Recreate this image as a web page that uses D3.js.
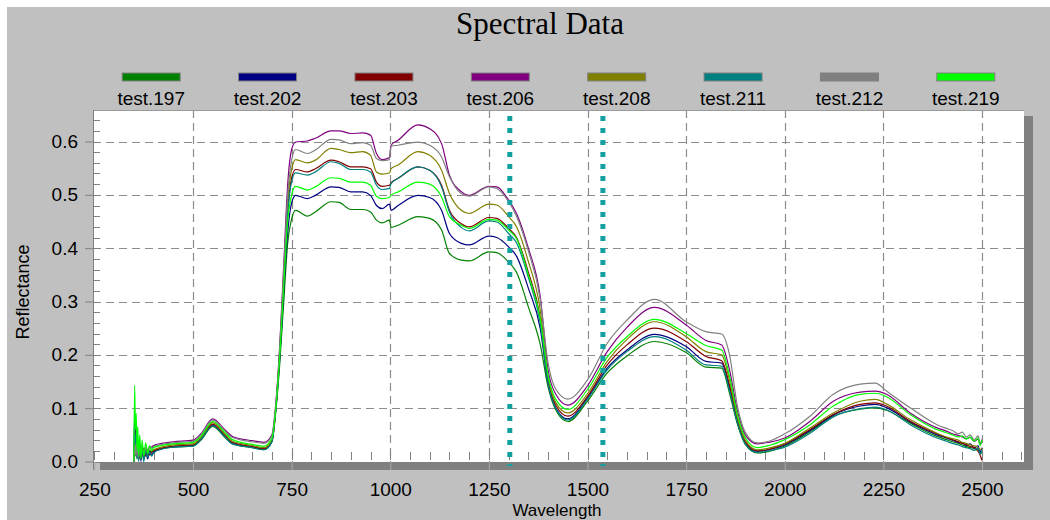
<!DOCTYPE html>
<html>
<head>
<meta charset="utf-8">
<script src="https://cdn.jsdelivr.net/npm/d3@7"></script>
<style>
  html, body { margin: 0; padding: 0; background: #ffffff; }
  svg { display: block; }
</style>
</head>
<body>
<script>
// ---------------- DATA ----------------
const title = "Spectral Data";
const xLabel = "Wavelength";
const yLabel = "Reflectance";
const seriesNames = ["test.197", "test.202", "test.203", "test.206", "test.208", "test.211", "test.212", "test.219"];
const seriesColors = ["#008000", "#000080", "#800000", "#800080", "#808000", "#008080", "#808080", "#00ff00"];
const xTicks = [250, 500, 750, 1000, 1250, 1500, 1750, 2000, 2250, 2500];
const yTicks = [0.0, 0.1, 0.2, 0.3, 0.4, 0.5, 0.6];
const markerLines = [1303, 1539];

const wavelengths = [
  350, 352, 354, 356, 358, 360, 362, 365, 368, 371, 375, 380, 385, 390, 395,
  400, 420, 450, 500, 520, 550, 580, 600, 650, 680, 700,
  710, 720, 730, 740, 750,
  760, 790, 810, 850, 870, 900, 930, 950, 965, 980, 998, 1002, 1020,
  1070, 1100, 1130, 1150, 1180, 1200, 1250, 1270, 1300,
  1320, 1350, 1380, 1400, 1420, 1450,
  1500, 1550, 1600, 1670, 1750, 1800, 1840,
  1860, 1880, 1900, 1930, 1960, 2000,
  2064, 2123, 2191, 2230, 2258, 2318, 2386,
  2410, 2425, 2440, 2450, 2460, 2470, 2480, 2490, 2495, 2500
];

const test197 = [
  0, 0.05, 0.01, 0.04, 0.005, 0.03, 0.01, 0.025, 0.005, 0.02, 0.01, 0.022, 0.012, 0.02, 0.017,
  0.019, 0.024, 0.027, 0.029, 0.040, 0.066, 0.046, 0.033, 0.026, 0.022, 0.037,
  0.095, 0.185, 0.30, 0.41, 0.455,
  0.471, 0.46, 0.468, 0.487, 0.486, 0.4725, 0.4725, 0.468, 0.4525, 0.4475, 0.4525, 0.439, 0.443,
  0.459, 0.456, 0.434, 0.39, 0.3775, 0.376, 0.393, 0.3915, 0.374,
  0.355, 0.29, 0.22, 0.14, 0.096, 0.075,
  0.113, 0.166, 0.198, 0.225, 0.2043, 0.177, 0.175,
  0.128, 0.07, 0.032, 0.016, 0.019, 0.029,
  0.056, 0.085, 0.098, 0.1006, 0.096, 0.072, 0.047,
  0.041, 0.037, 0.034, 0.031, 0.028, 0.026, 0.024, 0.02, 0.018, 0.015
];
const test202 = [
  0, 0.095, 0.02, 0.06, 0.01, 0.04, 0.005, 0.035, 0.0, 0.03, 0.005, 0.02, 0.005, 0.02, 0.012,
  0.018, 0.024, 0.028, 0.030, 0.042, 0.068, 0.048, 0.034, 0.027, 0.023, 0.038,
  0.10, 0.195, 0.32, 0.43, 0.485,
  0.499, 0.493, 0.499, 0.515, 0.514, 0.5056, 0.5056, 0.499, 0.48, 0.474, 0.4825, 0.471, 0.48,
  0.499, 0.495, 0.471, 0.4275, 0.409, 0.406, 0.4225, 0.42, 0.4025,
  0.385, 0.325, 0.25, 0.147, 0.10, 0.080,
  0.119, 0.175, 0.209, 0.2385, 0.2155, 0.1876, 0.1845,
  0.138, 0.075, 0.035, 0.019, 0.022, 0.031,
  0.058, 0.087, 0.104, 0.107, 0.101, 0.074, 0.05,
  0.044, 0.04, 0.036, 0.035, 0.03, 0.033, 0.025, 0.03, 0.018, 0.026
];
const test203 = [
  0, 0.03, 0.07, 0.02, 0.045, 0.01, 0.035, 0.005, 0.03, 0.01, 0.025, 0.01, 0.02, 0.012, 0.018,
  0.02, 0.025, 0.029, 0.031, 0.043, 0.070, 0.050, 0.036, 0.028, 0.024, 0.039,
  0.10, 0.205, 0.34, 0.47, 0.532,
  0.5475, 0.543, 0.549, 0.565, 0.562, 0.5525, 0.5525, 0.549, 0.524, 0.516, 0.518, 0.5225, 0.531,
  0.5525, 0.546, 0.518, 0.471, 0.446, 0.44, 0.4575, 0.456, 0.437,
  0.42, 0.355, 0.27, 0.152, 0.105, 0.085,
  0.122, 0.181, 0.2186, 0.25, 0.225, 0.197, 0.189,
  0.143, 0.078, 0.037, 0.02, 0.023, 0.033,
  0.060, 0.088, 0.107, 0.110, 0.104, 0.0754, 0.052,
  0.045, 0.041, 0.037, 0.034, 0.032, 0.028, 0.027, 0.02, 0.012, 0.002
];
const test206 = [
  0, 0.035, 0.02, 0.04, 0.015, 0.035, 0.01, 0.03, 0.015, 0.028, 0.018, 0.026, 0.022, 0.028, 0.027,
  0.03, 0.034, 0.037, 0.040, 0.052, 0.080, 0.060, 0.047, 0.039, 0.036, 0.05,
  0.11, 0.22, 0.37, 0.52, 0.585,
  0.599, 0.601, 0.606, 0.62, 0.62, 0.615, 0.616, 0.612, 0.5775, 0.566, 0.57, 0.593, 0.6025,
  0.631, 0.624, 0.596, 0.537, 0.506, 0.499, 0.516, 0.515, 0.49,
  0.465, 0.40, 0.31, 0.172, 0.1255, 0.1056,
  0.142, 0.206, 0.2516, 0.289, 0.256, 0.227, 0.2186,
  0.172, 0.095, 0.05, 0.033, 0.036, 0.044,
  0.0754, 0.113, 0.130, 0.132, 0.126, 0.091, 0.063,
  0.057, 0.052, 0.049, 0.046, 0.043, 0.045, 0.038, 0.042, 0.033, 0.036
];
const test208 = [
  0, 0.04, 0.015, 0.035, 0.01, 0.03, 0.005, 0.028, 0.01, 0.025, 0.012, 0.022, 0.015, 0.022, 0.02,
  0.022, 0.027, 0.031, 0.033, 0.045, 0.073, 0.052, 0.038, 0.030, 0.026, 0.041,
  0.105, 0.21, 0.35, 0.485, 0.548,
  0.566, 0.56, 0.565, 0.587, 0.585, 0.579, 0.581, 0.574, 0.543, 0.539, 0.541, 0.549, 0.556,
  0.581, 0.574, 0.546, 0.5025, 0.471, 0.465, 0.4825, 0.481, 0.459,
  0.44, 0.375, 0.285, 0.158, 0.11, 0.091,
  0.127, 0.1876, 0.229, 0.262, 0.234, 0.206, 0.2,
  0.152, 0.082, 0.04, 0.022, 0.025, 0.034,
  0.063, 0.091, 0.113, 0.1165, 0.108, 0.0786, 0.053,
  0.046, 0.043, 0.04, 0.036, 0.034, 0.031, 0.03, 0.026, 0.022, 0.025
];
const test211 = [
  0, 0.08, 0.03, 0.05, 0.005, 0.035, 0.0, 0.03, 0.005, 0.025, 0.0, 0.02, 0.008, 0.018, 0.01,
  0.016, 0.023, 0.027, 0.029, 0.041, 0.067, 0.047, 0.033, 0.026, 0.022, 0.037,
  0.10, 0.205, 0.34, 0.465, 0.525,
  0.541, 0.537, 0.543, 0.562, 0.559, 0.5475, 0.5475, 0.543, 0.518, 0.51, 0.512, 0.521, 0.531,
  0.5525, 0.546, 0.515, 0.468, 0.439, 0.4325, 0.451, 0.449, 0.4275,
  0.41, 0.345, 0.26, 0.147, 0.099, 0.078,
  0.117, 0.172, 0.206, 0.234, 0.209, 0.181, 0.179,
  0.133, 0.072, 0.033, 0.017, 0.02, 0.027,
  0.053, 0.0837, 0.099, 0.102, 0.097, 0.069, 0.044,
  0.038, 0.034, 0.031, 0.028, 0.026, 0.024, 0.021, 0.025, 0.014, 0.02
];
const test212 = [
  0, 0.03, 0.012, 0.035, 0.01, 0.03, 0.008, 0.028, 0.012, 0.026, 0.015, 0.025, 0.02, 0.026, 0.025,
  0.028, 0.032, 0.035, 0.038, 0.05, 0.078, 0.058, 0.045, 0.037, 0.034, 0.048,
  0.105, 0.215, 0.36, 0.50, 0.565,
  0.585, 0.5775, 0.584, 0.604, 0.603, 0.596, 0.598, 0.593, 0.568, 0.564, 0.566, 0.591, 0.593,
  0.599, 0.593, 0.571, 0.534, 0.5025, 0.4975, 0.515, 0.512, 0.487,
  0.46, 0.395, 0.305, 0.185, 0.135, 0.117,
  0.153, 0.2217, 0.265, 0.304, 0.262, 0.2435, 0.239,
  0.2, 0.104, 0.055, 0.035, 0.038, 0.052,
  0.085, 0.126, 0.145, 0.147, 0.132, 0.1007, 0.069,
  0.062, 0.058, 0.052, 0.055, 0.046, 0.05, 0.041, 0.048, 0.035, 0.042
];
const test219 = [
  0, 0.143, 0.06, 0.09, 0.02, 0.065, 0.01, 0.05, 0.005, 0.04, 0.01, 0.035, 0.015, 0.03, 0.02,
  0.026, 0.03, 0.033, 0.036, 0.047, 0.075, 0.055, 0.041, 0.032, 0.029, 0.043,
  0.10, 0.20, 0.33, 0.45, 0.50,
  0.516, 0.509, 0.515, 0.532, 0.531, 0.524, 0.524, 0.518, 0.4975, 0.493, 0.495, 0.4995, 0.5056,
  0.524, 0.52, 0.496, 0.459, 0.443, 0.437, 0.454, 0.4525, 0.434,
  0.418, 0.35, 0.268, 0.162, 0.116, 0.0975,
  0.135, 0.1957, 0.234, 0.2665, 0.240, 0.2174, 0.209,
  0.16, 0.088, 0.045, 0.026, 0.03, 0.041,
  0.069, 0.104, 0.126, 0.128, 0.1215, 0.088, 0.0597,
  0.054, 0.05, 0.046, 0.048, 0.042, 0.046, 0.038, 0.044, 0.03, 0.04
];
const seriesValues = [test197, test202, test203, test206, test208, test211, test212, test219];

// ---------------- LAYOUT ----------------
const W = 1050, H = 520;
const plot = { left: 93, top: 110, right: 1024, bottom: 462 };
const SANS = "'Liberation Sans', Arial, sans-serif";
const SERIF = "'Liberation Serif', 'Times New Roman', serif";

const svg = d3.select("body").append("svg").attr("width", W).attr("height", H)
  .style("font-family", SANS);

// panel background
svg.append("rect").attr("x", 0).attr("y", 0).attr("width", W).attr("height", H).attr("fill", "#ffffff");
svg.append("rect").attr("x", 7).attr("y", 7).attr("width", W - 7).attr("height", H - 7).attr("fill", "#c0c0c0");

// shadow
svg.append("rect").attr("x", plot.right).attr("y", plot.top + 6)
  .attr("width", 9).attr("height", plot.bottom - plot.top + 2).attr("fill", "#808080");
svg.append("rect").attr("x", plot.left + 7).attr("y", plot.bottom)
  .attr("width", plot.right - plot.left + 2).attr("height", 8).attr("fill", "#808080");

// plot area
svg.append("rect").attr("x", plot.left).attr("y", plot.top)
  .attr("width", plot.right - plot.left).attr("height", plot.bottom - plot.top)
  .attr("fill", "#ffffff");

const x = d3.scaleLinear().domain([250, 2500]).range([94.4, 982]);
const y = d3.scaleLinear().domain([0, 0.6]).range([461.5, 141.5]);

// gridlines
const grid = svg.append("g").attr("stroke", "#8c8c8c").attr("stroke-width", 1.2).attr("stroke-dasharray", "8,5");
grid.selectAll("line.v").data(xTicks.filter(d => d > 250)).join("line")
  .attr("class", "v")
  .attr("x1", d => Math.round(x(d)) + 0.5).attr("x2", d => Math.round(x(d)) + 0.5)
  .attr("y1", plot.top).attr("y2", plot.bottom);
grid.selectAll("line.h").data(yTicks.filter(d => d > 0)).join("line")
  .attr("class", "h")
  .attr("y1", d => Math.round(y(d)) + 0.5).attr("y2", d => Math.round(y(d)) + 0.5)
  .attr("x1", plot.left).attr("x2", plot.right);

// x minor ticks (inside, bottom)
const xMinor = d3.range(250, 2650, 50);
svg.append("g").attr("stroke", "#808080").attr("stroke-width", 1)
  .selectAll("line").data(xMinor).join("line")
  .attr("x1", d => Math.round(x(d)) + 0.5).attr("x2", d => Math.round(x(d)) + 0.5)
  .attr("y1", 452).attr("y2", 460);

// y minor ticks (inside, left)
const yMinor = d3.range(0, 0.66, 0.02);
svg.append("g").attr("stroke", "#808080").attr("stroke-width", 1)
  .selectAll("line").data(yMinor).join("line")
  .attr("y1", d => Math.round(y(d)) + 0.5).attr("y2", d => Math.round(y(d)) + 0.5)
  .attr("x1", plot.left).attr("x2", plot.left + 7);

// series lines
svg.append("clipPath").attr("id", "clip").append("rect")
  .attr("x", plot.left).attr("y", plot.top)
  .attr("width", plot.right - plot.left).attr("height", plot.bottom - plot.top);

const line = d3.line()
  .defined(d => d != null && !isNaN(d))
  .x((d, i) => x(wavelengths[i]))
  .y(d => y(d))
  .curve(d3.curveMonotoneX);

svg.append("g").attr("clip-path", "url(#clip)")
  .selectAll("path").data(seriesValues).join("path")
  .attr("d", d => line(d))
  .attr("fill", "none")
  .attr("stroke", (d, i) => seriesColors[i])
  .attr("stroke-width", 1.2)
  .attr("stroke-linejoin", "round");

// marker dotted lines
svg.append("g").selectAll("line").data(markerLines).join("line")
  .attr("x1", d => x(d)).attr("x2", d => x(d))
  .attr("y1", 116).attr("y2", 466)
  .attr("stroke", "#12a0a0").attr("stroke-width", 5)
  .attr("stroke-dasharray", "5,7");

// plot frame (top & left)
svg.append("line").attr("x1", plot.left).attr("x2", plot.right).attr("y1", plot.top + 0.5).attr("y2", plot.top + 0.5)
  .attr("stroke", "#9a9a9a");
svg.append("line").attr("x1", plot.left + 0.5).attr("x2", plot.left + 0.5).attr("y1", plot.top).attr("y2", plot.bottom + 8)
  .attr("stroke", "#808080");

// y axis
const yAxis = d3.axisLeft(y).tickValues(yTicks).tickSize(8).tickPadding(7).tickFormat(d3.format(".1f"));
const gy = svg.append("g").attr("transform", `translate(${plot.left},0)`).call(yAxis);
gy.select(".domain").remove();
gy.selectAll(".tick line").attr("stroke", "#808080");
gy.selectAll(".tick text").attr("fill", "#000")
  .style("font-family", SANS).style("font-size", "19px");

// x axis
const xAxis = d3.axisBottom(x).tickValues(xTicks).tickSize(8).tickFormat(d3.format("d"));
const gx = svg.append("g").attr("transform", `translate(0,${plot.bottom})`).call(xAxis);
gx.select(".domain").remove();
gx.selectAll(".tick line").attr("stroke", "#a8a8a8");
gx.selectAll(".tick text").attr("fill", "#000")
  .style("font-family", SANS).style("font-size", "19px")
  .attr("y", 34).attr("dy", 0);

// axis titles
svg.append("text").attr("x", 557).attr("y", 516).attr("text-anchor", "middle")
  .style("font-family", SANS).style("font-size", "17px").attr("fill", "#000").text(xLabel);
svg.append("text").attr("transform", "translate(29,292) rotate(-90)").attr("text-anchor", "middle")
  .style("font-family", SANS).style("font-size", "18px").attr("fill", "#000").text(yLabel);

// title
svg.append("text").attr("x", 540).attr("y", 34).attr("text-anchor", "middle")
  .style("font-family", SERIF).style("font-size", "31px").attr("fill", "#000").text(title);

// legend
const lg = d3.scaleBand().domain(seriesNames).range([plot.left, plot.right]);
const items = svg.append("g").selectAll("g").data(seriesNames).join("g")
  .attr("transform", d => `translate(${lg(d) + lg.bandwidth() / 2},0)`);
items.append("rect").attr("x", -29).attr("y", 73).attr("width", 58).attr("height", 8)
  .attr("fill", (d, i) => seriesColors[i]).attr("stroke", "#808080").attr("stroke-width", 1);
items.append("text").attr("x", 0).attr("y", 105).attr("text-anchor", "middle")
  .style("font-family", SANS).style("font-size", "19px").attr("fill", "#000").text(d => d);
</script>
</body>
</html>
